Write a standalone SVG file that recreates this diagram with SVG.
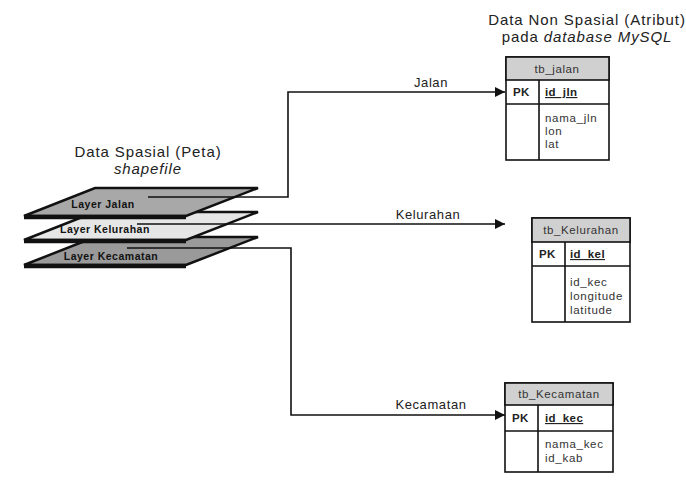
<svg xmlns="http://www.w3.org/2000/svg" width="686" height="483" viewBox="0 0 686 483">
<defs>
<marker id="arr" viewBox="0 0 10 10" refX="10" refY="5" markerWidth="14" markerHeight="10" markerUnits="userSpaceOnUse" orient="auto"><path d="M0,0 L10,5 L0,10 z" fill="#111"/></marker>
<style>
text{font-family:"Liberation Sans",Arial,sans-serif;fill:#222}
.t{font-size:15px;letter-spacing:0.9px;text-anchor:middle}
.lbl{font-size:13px;letter-spacing:0.6px;text-anchor:middle}
.ly{font-size:10.5px;letter-spacing:0.5px;font-weight:bold;text-anchor:middle;fill:#111}
.layer{stroke:#111;stroke-width:2.5;stroke-linejoin:miter}
.shadow{stroke:#111;stroke-width:4.5;fill:none}
.conn{stroke:#111;stroke-width:1.6;fill:none}
.box{fill:#fff;stroke:#111;stroke-width:1.6}
.hdr{fill:#d0d0d0;stroke:#111;stroke-width:1.6}
.ln{stroke:#111;stroke-width:1.6}
.tt{font-size:11.5px;letter-spacing:0.6px;text-anchor:middle;fill:#333}
.pk{font-size:11.5px;letter-spacing:0.4px;font-weight:bold}
.f{font-size:11.5px;letter-spacing:0.7px;fill:#333}
</style>
</defs>
<g id="title-spasial">
<text class="t" x="148" y="157">Data Spasial (Peta)</text>
<text class="t" x="148" y="174" font-style="italic">shapefile</text>
</g>
<g id="title-nonspasial">
<text class="t" x="587" y="25">Data Non Spasial (Atribut)</text>
<text class="t" x="587" y="42">pada <tspan font-style="italic">database MySQL</tspan></text>
</g>
<g id="layer-kecamatan">
<polygon class="layer" points="95,237 258,237 186,265 24,265" fill="#9a9a9a"/>
<line class="shadow" x1="24" y1="266" x2="186" y2="266"/>
<text class="ly" x="111" y="260">Layer Kecamatan</text>
</g>
<g id="layer-kelurahan">
<polygon class="layer" points="95,212 258,212 186,240 24,240" fill="#e6e6e6"/>
<line class="shadow" x1="24" y1="241" x2="186" y2="241"/>
<text class="ly" x="105" y="233">Layer Kelurahan</text>
</g>
<g id="layer-jalan">
<polygon class="layer" points="95,188 258,188 186,216 24,216" fill="#a8a8a8"/>
<line class="shadow" x1="24" y1="217" x2="186" y2="217"/>
<text class="ly" x="103" y="208">Layer Jalan</text>
</g>
<g id="connectors">
<polyline class="conn" points="148,197 288,197 288,92 505,92" marker-end="url(#arr)"/>
<polyline class="conn" points="137,224 505,224" marker-end="url(#arr)"/>
<polyline class="conn" points="127,248 291,248 291,415 505,415" marker-end="url(#arr)"/>
<text class="lbl" x="431" y="87">Jalan</text>
<text class="lbl" x="428" y="219">Kelurahan</text>
<text class="lbl" x="431" y="409">Kecamatan</text>
</g>
<g id="tb_jalan">
<rect class="box" x="506" y="57" width="103" height="103"/>
<rect class="hdr" x="506" y="57" width="103" height="23"/>
<line class="ln" x1="506" y1="104" x2="609" y2="104"/>
<line class="ln" x1="539" y1="80" x2="539" y2="160"/>
<text class="tt" x="557" y="73">tb_jalan</text>
<text class="pk" x="513" y="96">PK</text>
<text class="pk" x="545" y="96" text-decoration="underline">id_jln</text>
<text class="f" x="545" y="122">nama_jln</text>
<text class="f" x="545" y="135">lon</text>
<text class="f" x="545" y="148">lat</text>
</g>
<g id="tb_kelurahan">
<rect class="box" x="532" y="218" width="98" height="104"/>
<rect class="hdr" x="532" y="218" width="98" height="24"/>
<line class="ln" x1="532" y1="266" x2="630" y2="266"/>
<line class="ln" x1="565" y1="242" x2="565" y2="322"/>
<text class="tt" x="581" y="234">tb_Kelurahan</text>
<text class="pk" x="539" y="258">PK</text>
<text class="pk" x="570" y="258" text-decoration="underline">id_kel</text>
<text class="f" x="570" y="286">id_kec</text>
<text class="f" x="570" y="300">longitude</text>
<text class="f" x="570" y="314">latitude</text>
</g>
<g id="tb_kecamatan">
<rect class="box" x="505" y="383" width="108" height="89"/>
<rect class="hdr" x="505" y="383" width="108" height="22"/>
<line class="ln" x1="505" y1="431" x2="613" y2="431"/>
<line class="ln" x1="538" y1="405" x2="538" y2="472"/>
<text class="tt" x="559" y="398">tb_Kecamatan</text>
<text class="pk" x="512" y="422">PK</text>
<text class="pk" x="545" y="422" text-decoration="underline">id_kec</text>
<text class="f" x="545" y="448">nama_kec</text>
<text class="f" x="545" y="462">id_kab</text>
</g>
</svg>
